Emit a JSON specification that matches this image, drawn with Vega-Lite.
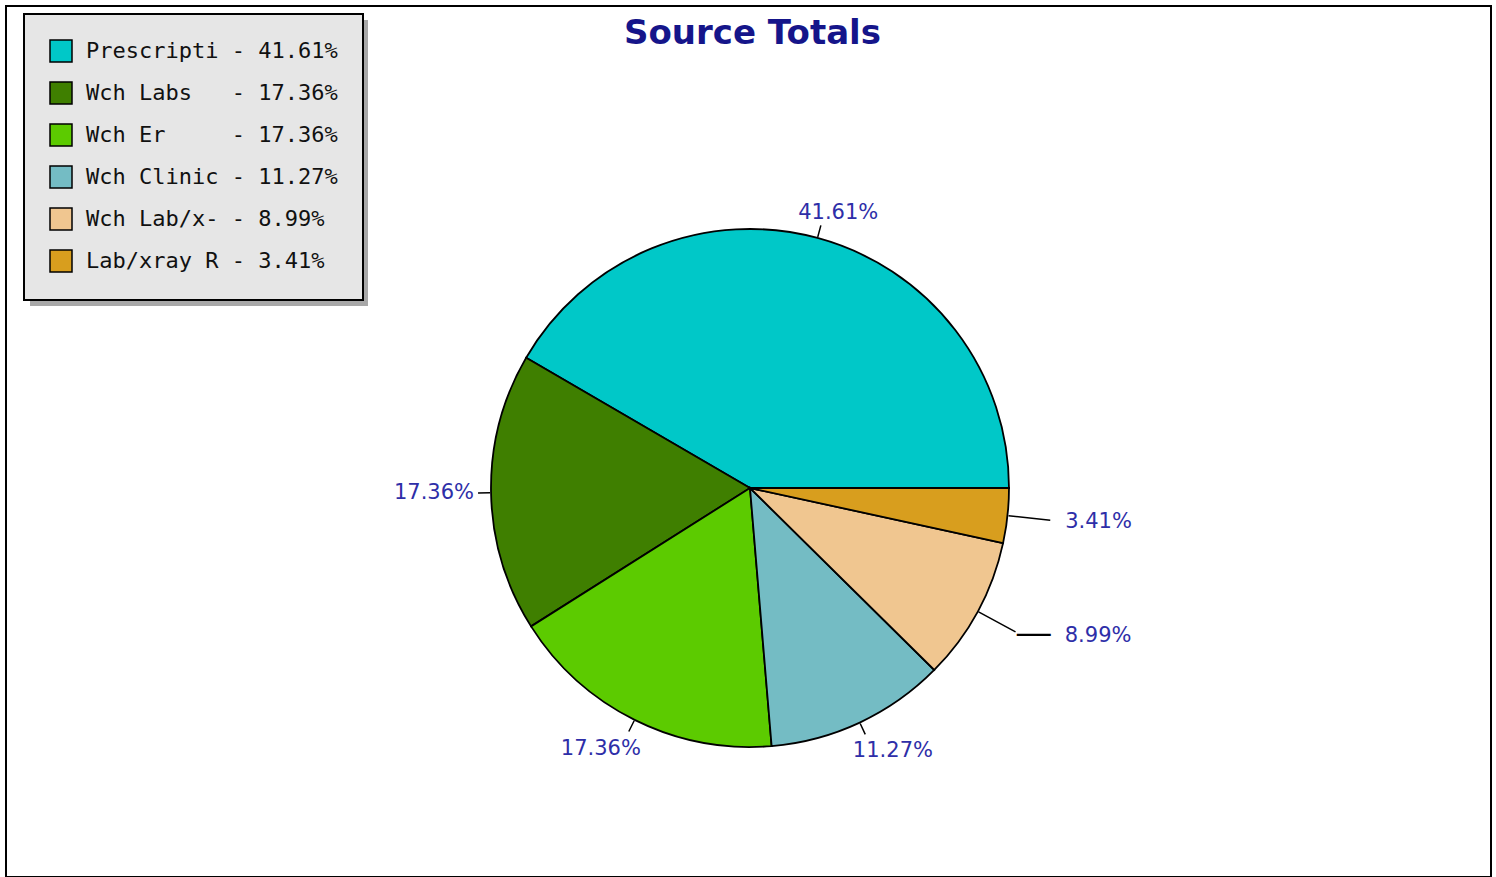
{
  "$schema": "https://vega.github.io/schema/vega-lite/v6.json",
  "autosize": "none",
  "width": 1485,
  "height": 871,
  "padding": {"left": 6, "top": 6, "right": 5, "bottom": 0},
  "background": "white",
  "view": {"stroke": "#000000", "strokeWidth": 2},
  "title": {
    "text": "Source Totals",
    "font": "DejaVu Sans",
    "fontSize": 34,
    "fontWeight": "bold",
    "color": "#15158a",
    "anchor": "middle",
    "baseline": "alphabetic",
    "offset": 0,
    "dy": 72,
    "dx": 4
  },
  "config": {
    "view": {"stroke": "#000000", "strokeWidth": 2},
    "style": {"cell": {"stroke": "#000000", "strokeWidth": 2}},
    "legend": {"strokeWidth": 2}
  },
  "data": {
    "values": [
      {"name": "Prescripti", "legend": "Prescripti - 41.61%", "value": 41.61, "label": "41.61%", "ord": 6},
      {"name": "Wch Labs", "legend": "Wch Labs\u00a0\u00a0\u00a0- 17.36%", "value": 17.36, "label": "17.36%", "ord": 5},
      {"name": "Wch Er", "legend": "Wch Er\u00a0\u00a0\u00a0\u00a0\u00a0- 17.36%", "value": 17.36, "label": "17.36%", "ord": 4},
      {"name": "Wch Clinic", "legend": "Wch Clinic - 11.27%", "value": 11.27, "label": "11.27%", "ord": 3},
      {"name": "Wch Lab/x-", "legend": "Wch Lab/x- - 8.99%", "value": 8.99, "label": "8.99%", "ord": 2},
      {"name": "Lab/xray R", "legend": "Lab/xray R - 3.41%", "value": 3.41, "label": "3.41%", "ord": 1}
    ]
  },
  "encoding": {
    "theta": {"field": "value", "type": "quantitative", "stack": true, "scale": {"range": [1.5707963, 7.8539816]}},
    "order": {"field": "ord", "type": "quantitative"}
  },
  "layer": [
    {
      "mark": {"type": "arc", "radius": 259, "stroke": "#000000", "strokeWidth": 1.8, "x": {"expr": "width/2+1.5"}, "y": {"expr": "height/2+46.5"}},
      "encoding": {
        "color": {
          "field": "legend",
          "type": "nominal",
          "scale": {
            "domain": ["Prescripti - 41.61%", "Wch Labs\u00a0\u00a0\u00a0- 17.36%", "Wch Er\u00a0\u00a0\u00a0\u00a0\u00a0- 17.36%", "Wch Clinic - 11.27%", "Wch Lab/x- - 8.99%", "Lab/xray R - 3.41%"],
            "range": ["#00c8c8", "#3f7f00", "#5ccb00", "#74bcc4", "#f0c690", "#d89e1e"]
          },
          "legend": {
            "title": null,
            "orient": "none",
            "legendX": 18,
            "legendY": 8,
            "zindex": 2,
            "fillColor": "#e6e6e6",
            "strokeColor": "#000000",
            "padding": 25,
            "symbolType": "square",
            "symbolSize": 484,
            "symbolStrokeColor": "#000000",
            "symbolStrokeWidth": 1.5,
            "symbolOpacity": 1,
            "labelFont": "DejaVu Sans Mono",
            "labelFontSize": 22,
            "labelColor": "#111111",
            "labelOffset": 13,
            "labelLimit": 500,
            "rowPadding": 14
          }
        },
        "opacity": {
          "field": "name",
          "type": "nominal",
          "scale": {"range": [1, 1, 1, 1, 1, 1]},
          "legend": {
            "title": null,
            "orient": "none",
            "legendX": 24,
            "legendY": 14,
            "zindex": 1,
            "fillColor": "#a8a8a8",
            "strokeColor": "transparent",
            "padding": 25,
            "symbolType": "M-1,-1.273H24.8V1.273H-1Z",
            "symbolSize": 484,
            "symbolStrokeColor": "transparent",
            "symbolOpacity": 0,
            "symbolFillColor": "transparent",
            "labelExpr": "''",
            "labelOffset": 0,
            "labelFontSize": 10,
            "rowPadding": 5.2
          }
        }
      }
    },
    {
      "mark": {"type": "arc", "radius": 272, "radius2": 260, "padAngle": 3.1416, "strokeWidth": 1.5, "fill": "transparent", "x": {"expr": "width/2+1.5"}, "y": {"expr": "height/2+46.5"}},
      "encoding": {
        "stroke": {"condition": {"test": "datum.ord >= 3", "value": "#000000"}, "value": "transparent"}
      }
    },
    {
      "mark": {"type": "arc", "radius": 302, "radius2": 260, "padAngle": 3.1416, "strokeWidth": 1.5, "fill": "transparent", "x": {"expr": "width/2+1.5"}, "y": {"expr": "height/2+46.5"}},
      "encoding": {
        "stroke": {"condition": {"test": "datum.ord <= 2", "value": "#000000"}, "value": "transparent"}
      }
    },
    {
      "mark": {"type": "text", "radius": 285, "dx": 14, "align": "center", "baseline": "middle", "font": "DejaVu Sans", "fontSize": 21, "color": "#2e2ea8", "x": {"expr": "width/2+1.5"}, "y": {"expr": "height/2+46.5"}},
      "encoding": {"text": {"condition": {"test": "datum.ord === 6", "field": "label", "type": "nominal"}, "value": ""}}
    },
    {
      "mark": {"type": "text", "radius": 276, "align": "right", "baseline": "middle", "font": "DejaVu Sans", "fontSize": 21, "color": "#2e2ea8", "x": {"expr": "width/2+1.5"}, "y": {"expr": "height/2+46.5"}},
      "encoding": {"text": {"condition": {"test": "datum.ord === 5", "field": "label", "type": "nominal"}, "value": ""}}
    },
    {
      "mark": {"type": "text", "radius": 292, "dx": -19, "align": "center", "baseline": "middle", "font": "DejaVu Sans", "fontSize": 21, "color": "#2e2ea8", "x": {"expr": "width/2+1.5"}, "y": {"expr": "height/2+46.5"}},
      "encoding": {"text": {"condition": {"test": "datum.ord === 4", "field": "label", "type": "nominal"}, "value": ""}}
    },
    {
      "mark": {"type": "text", "radius": 290, "dx": 20, "align": "center", "baseline": "middle", "font": "DejaVu Sans", "fontSize": 21, "color": "#2e2ea8", "x": {"expr": "width/2+1.5"}, "y": {"expr": "height/2+46.5"}},
      "encoding": {"text": {"condition": {"test": "datum.ord === 3", "field": "label", "type": "nominal"}, "value": ""}}
    },
    {
      "mark": {"type": "text", "radius": 300, "dx": 51, "dy": 5, "align": "left", "baseline": "middle", "font": "DejaVu Sans", "fontSize": 21, "color": "#2e2ea8", "x": {"expr": "width/2+1.5"}, "y": {"expr": "height/2+46.5"}},
      "encoding": {"text": {"condition": {"test": "datum.ord === 2", "field": "label", "type": "nominal"}, "value": ""}}
    },
    {
      "mark": {"type": "text", "radius": 317, "align": "left", "baseline": "middle", "font": "DejaVu Sans", "fontSize": 21, "color": "#2e2ea8", "x": {"expr": "width/2+1.5"}, "y": {"expr": "height/2+46.5"}},
      "encoding": {"text": {"condition": {"test": "datum.ord === 1", "field": "label", "type": "nominal"}, "value": ""}}
    },
    {
      "mark": {"type": "text", "radius": 300, "dx": 3, "dy": 12, "align": "left", "baseline": "alphabetic", "font": "Liberation Sans", "fontSize": 34, "color": "#000000", "x": {"expr": "width/2+1.5"}, "y": {"expr": "height/2+46.5"}},
      "encoding": {"text": {"condition": {"test": "datum.ord === 2", "value": "—"}, "value": ""}}
    }
  ]
}
